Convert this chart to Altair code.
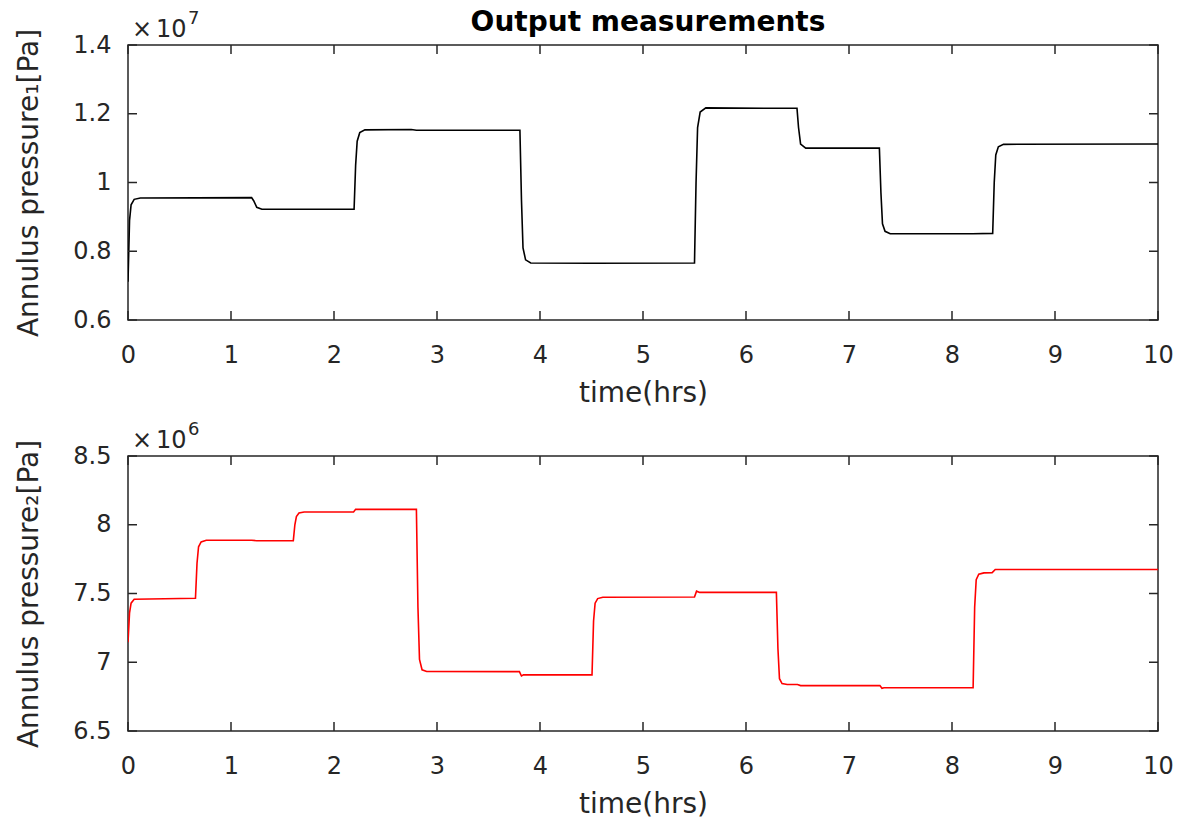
import altair as alt
import pandas as pd

# ---- data (values in units of the axis multiplier) ----
# Annulus pressure 1 (x 1e7 Pa)
t1 = [0.00, 0.015, 0.03, 0.06, 0.12, 1.20, 1.22, 1.25, 1.30, 2.195, 2.21, 2.225, 2.25, 2.30,
      2.75, 2.80, 3.805, 3.82, 3.835, 3.86, 3.91, 4.50, 5.500, 5.515, 5.53, 5.555, 5.61,
      6.30, 6.495, 6.51, 6.53, 6.58, 7.295, 7.31, 7.325, 7.35, 7.40, 8.20, 8.395, 8.41, 8.425,
      8.45, 8.50, 10.0]
p1 = [0.711, 0.89, 0.935, 0.951, 0.955, 0.956, 0.947, 0.928, 0.922, 0.922, 1.05, 1.12, 1.145, 1.153,
      1.154, 1.152, 1.152, 0.95, 0.81, 0.775, 0.766, 0.765, 0.766, 1.00, 1.16, 1.205, 1.217,
      1.216, 1.216, 1.16, 1.112, 1.100, 1.100, 0.97, 0.88, 0.858, 0.851, 0.851, 0.852, 1.00, 1.08,
      1.104, 1.111, 1.112]

# Annulus pressure 2 (x 1e6 Pa)
t2 = [0.00, 0.015, 0.03, 0.06, 0.655, 0.67, 0.685, 0.71, 0.76, 1.20, 1.25, 1.605, 1.62, 1.635, 1.66,
      1.71, 2.19, 2.21, 2.24, 2.80, 2.815, 2.83, 2.855, 2.90, 3.80, 3.82, 3.84, 4.505, 4.52, 4.535,
      4.56, 4.61, 5.50, 5.52, 5.55, 6.295, 6.31, 6.325, 6.35, 6.40, 6.50, 6.53, 7.30, 7.32, 7.34, 8.205,
      8.22, 8.235, 8.26, 8.31, 8.39, 8.42, 10.0]
p2 = [7.146, 7.36, 7.43, 7.458, 7.465, 7.72, 7.84, 7.875, 7.887, 7.887, 7.884, 7.884, 8.00, 8.06, 8.085,
      8.093, 8.093, 8.112, 8.112, 8.112, 7.40, 7.02, 6.945, 6.933, 6.932, 6.900, 6.908, 6.908, 7.30, 7.43,
      7.463, 7.473, 7.474, 7.517, 7.508, 7.508, 7.10, 6.88, 6.845, 6.838, 6.838, 6.830, 6.830, 6.811, 6.815,
      6.815, 7.40, 7.60, 7.640, 7.650, 7.652, 7.675, 7.675]

x_ticks = [0, 1, 2, 3, 4, 5, 6, 7, 8, 9, 10]
y1_ticks = [0.6, 0.8, 1.0, 1.2, 1.4]
y2_ticks = [6.5, 7.0, 7.5, 8.0, 8.5]

title_text = "Output measurements"
x_title = "time(hrs)"
y1_title = "Annulus pressure\u2081[Pa]"
y2_title = "Annulus pressure\u2082[Pa]"
mult1 = ("\u00d7", "10", "7")
mult2 = ("\u00d7", "10", "6")

W, H = 1030, 275
FONT = "DejaVu Sans"
AX = "#262626"

df1 = pd.DataFrame({"t": t1, "p": p1})
df2 = pd.DataFrame({"t": t2, "p": p2})
dx = pd.DataFrame({"t": x_ticks})


def txt(s, size, x, y, weight="normal", align="left", color=AX):
    return alt.Chart(pd.DataFrame({"s": [s]})).mark_text(
        font=FONT, fontSize=size, fontWeight=weight, color=color,
        align=align, baseline="alphabetic").encode(
        text="s:N", x=alt.value(x), y=alt.value(y))


def panel(df, yticks, ytitle, color, mult, with_title=False):
    xs = alt.Scale(domain=[0, 10], nice=False)
    ys = alt.Scale(domain=[yticks[0], yticks[-1]], nice=False, zero=False)
    xax = alt.Axis(values=x_ticks, format="d", title=x_title, labelPadding=23,
                   titlePadding=12, ticks=False, domain=False, grid=False, labelFlush=False)
    yax = alt.Axis(values=yticks, format="~g", title=ytitle, labelPadding=17,
                   ticks=False, domain=False, grid=False, labelFlush=False,
                   titleX=-91, titleBaseline="alphabetic")
    line = alt.Chart(df).mark_line(color=color, strokeWidth=1.6, clip=True).encode(
        x=alt.X("t:Q", scale=xs, axis=xax),
        y=alt.Y("p:Q", scale=ys, axis=yax),
    )
    dyt = pd.DataFrame({"v": yticks})
    tick_b = alt.Chart(dx).mark_rule(color=AX, strokeWidth=1.5).encode(
        x=alt.X("t:Q", scale=xs), y=alt.value(H), y2=alt.value(H - 9))
    tick_t = alt.Chart(dx).mark_rule(color=AX, strokeWidth=1.5).encode(
        x=alt.X("t:Q", scale=xs), y=alt.value(0), y2=alt.value(9))
    tick_l = alt.Chart(dyt).mark_rule(color=AX, strokeWidth=1.5).encode(
        y=alt.Y("v:Q", scale=ys), x=alt.value(0), x2=alt.value(9))
    tick_r = alt.Chart(dyt).mark_rule(color=AX, strokeWidth=1.5).encode(
        y=alt.Y("v:Q", scale=ys), x=alt.value(W), x2=alt.value(W - 9))
    layers = [line, tick_b, tick_t, tick_l, tick_r,
              txt(mult[0], 24, 4, -8), txt(mult[1], 24, 28, -8), txt(mult[2], 18, 60, -21)]
    if with_title:
        layers.append(txt(title_text, 28, W / 2 + 5, -14, weight="bold", align="center", color="black"))
    return alt.layer(*layers).properties(width=W, height=H)


top = panel(df1, y1_ticks, y1_title, "black", mult1, with_title=True)
bot = panel(df2, y2_ticks, y2_title, "#ff0000", mult2)

chart = alt.vconcat(top, bot, spacing=12).properties(
    padding={"left": 14, "top": 8, "right": 5, "bottom": 5},
    background="white",
).configure_view(stroke=AX, strokeWidth=1.5).configure_axis(
    labelFont=FONT, labelFontSize=24, labelColor=AX,
    titleFont=FONT, titleFontSize=28, titleFontWeight="normal", titleColor=AX,
)

chart.save("out.html", embed_options={"renderer": "svg", "actions": False})
